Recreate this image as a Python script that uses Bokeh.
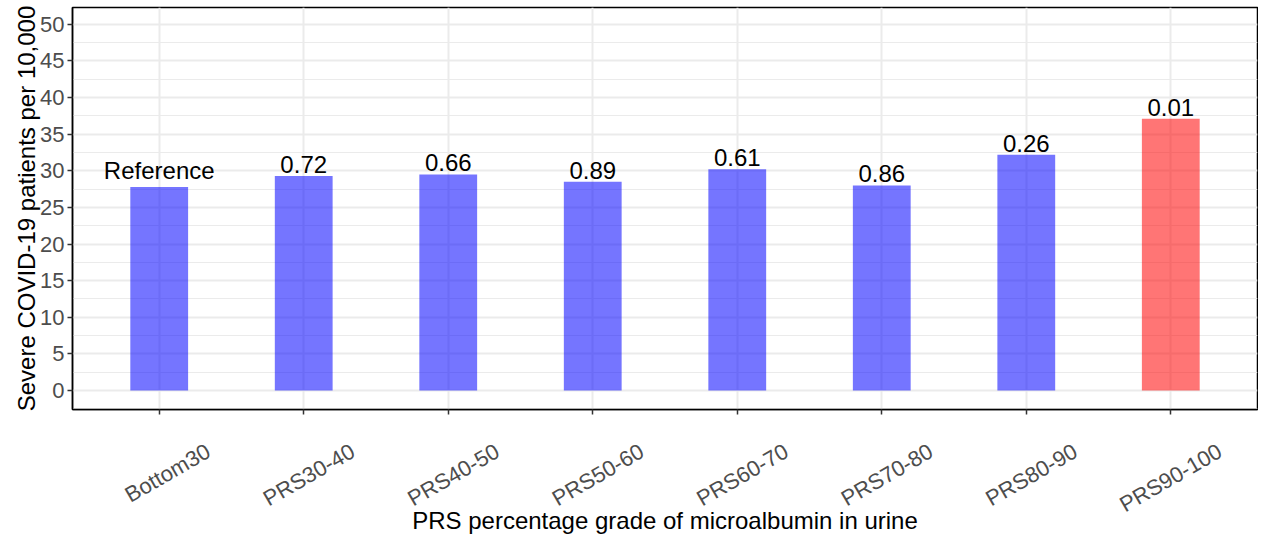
from bokeh.plotting import figure
from bokeh.models import ColumnDataSource, Range1d, FixedTicker, LinearAxis
from bokeh.core.properties import value
from bokeh.embed import file_html
from bokeh.resources import INLINE
import math

categories = ["Bottom30", "PRS30-40", "PRS40-50", "PRS50-60", "PRS60-70", "PRS70-80", "PRS80-90", "PRS90-100"]
values = [27.8, 29.3, 29.5, 28.5, 30.2, 28.0, 32.2, 37.1]
labels = ["Reference", "0.72", "0.66", "0.89", "0.61", "0.86", "0.26", "0.01"]
colors = ["#0000FF"] * 7 + ["#FF0000"]
y_ticks = [0, 5, 10, 15, 20, 25, 30, 35, 40, 45, 50]

FONT = "Liberation Sans"
SHIFT = 0.34           # label anchor shift so rotated labels sit centred under ticks

n = len(categories)
xpos = list(range(1, n + 1))     # discrete positions of the categories (as in ggplot)
src = ColumnDataSource(dict(x=xpos, cat=categories, val=values, lab=labels, col=colors))

p = figure(x_range=Range1d(0.4, n + 0.6),
           y_range=Range1d(-2.6, 52.3),
           width=1258, height=526, frame_width=1185, frame_height=402,
           min_border_left=72, min_border_right=1, min_border_top=7, min_border_bottom=117,
           output_backend="svg", toolbar_location=None,
           background_fill_color="white", border_fill_color="white")

p.vbar(x="x", top="val", bottom=0, width=0.4, source=src,
       fill_color="col", fill_alpha=0.54, line_color=None)

p.text(x="x", y="val", text="lab", source=src, text_align="center",
       text_baseline="bottom", text_font_size="24px", text_color="black",
       text_font=value(FONT), y_offset=-3)

p.outline_line_color = "black"
p.outline_line_width = 1.5
p.outline_line_alpha = 1

p.yaxis.ticker = FixedTicker(ticks=y_ticks, minor_ticks=[v + 2.5 for v in y_ticks[:-1]] + [-2.5, 52.5])
x_ticker = FixedTicker(ticks=xpos, minor_ticks=[])
p.xaxis.ticker = x_ticker
p.xgrid.ticker = x_ticker
p.ygrid.grid_line_color = "#EBEBEB"
p.ygrid.grid_line_width = 2
p.ygrid.minor_grid_line_color = "#EBEBEB"
p.ygrid.minor_grid_line_width = 1
p.xgrid.grid_line_color = "#EBEBEB"
p.xgrid.grid_line_width = 2

for ax in (p.xaxis, p.yaxis):
    ax.axis_line_color = "black"
    ax.axis_line_width = 1.5
    ax.major_tick_line_color = "#333333"
    ax.major_tick_line_width = 1.5
    ax.major_tick_out = 5
    ax.major_tick_in = 0
    ax.minor_tick_line_color = None
    ax.major_label_text_font = FONT
    ax.major_label_text_font_size = "22px"
    ax.major_label_text_color = "#4D4D4D"
    ax.axis_label_text_font = FONT
    ax.axis_label_text_font_size = "24px"
    ax.axis_label_text_font_style = "normal"
    ax.axis_label_text_color = "black"

p.yaxis.axis_label = "Severe COVID-19 patients per 10,000"
p.yaxis.major_label_standoff = 3
p.yaxis.axis_label_standoff = -3

# tick-mark axis (no labels)
p.xaxis.major_label_overrides = {xv: "" for xv in xpos}
p.xaxis.major_label_text_font_size = "0px"
p.xaxis.major_label_standoff = 0

# label axis: rotated category names centred below the ticks
lpos = [xv + SHIFT for xv in xpos]
lab_axis = LinearAxis(ticker=FixedTicker(ticks=lpos, minor_ticks=[]),
                      major_label_overrides={lv: c for lv, c in zip(lpos, categories)})
lab_axis.axis_line_color = None
lab_axis.major_tick_line_color = None
lab_axis.minor_tick_line_color = None
lab_axis.major_tick_out = 0
lab_axis.major_tick_in = 0
lab_axis.major_label_orientation = math.pi / 6
lab_axis.major_label_standoff = 35
lab_axis.major_label_text_font = FONT
lab_axis.major_label_text_font_size = "22px"
lab_axis.major_label_text_color = "#4D4D4D"
lab_axis.axis_label = "PRS percentage grade of microalbumin in urine"
lab_axis.axis_label_text_font = FONT
lab_axis.axis_label_text_font_size = "24px"
lab_axis.axis_label_text_font_style = "normal"
lab_axis.axis_label_text_color = "black"
lab_axis.axis_label_standoff = -24
p.add_layout(lab_axis, "below")

open("out.html", "w").write(file_html(p, INLINE))
